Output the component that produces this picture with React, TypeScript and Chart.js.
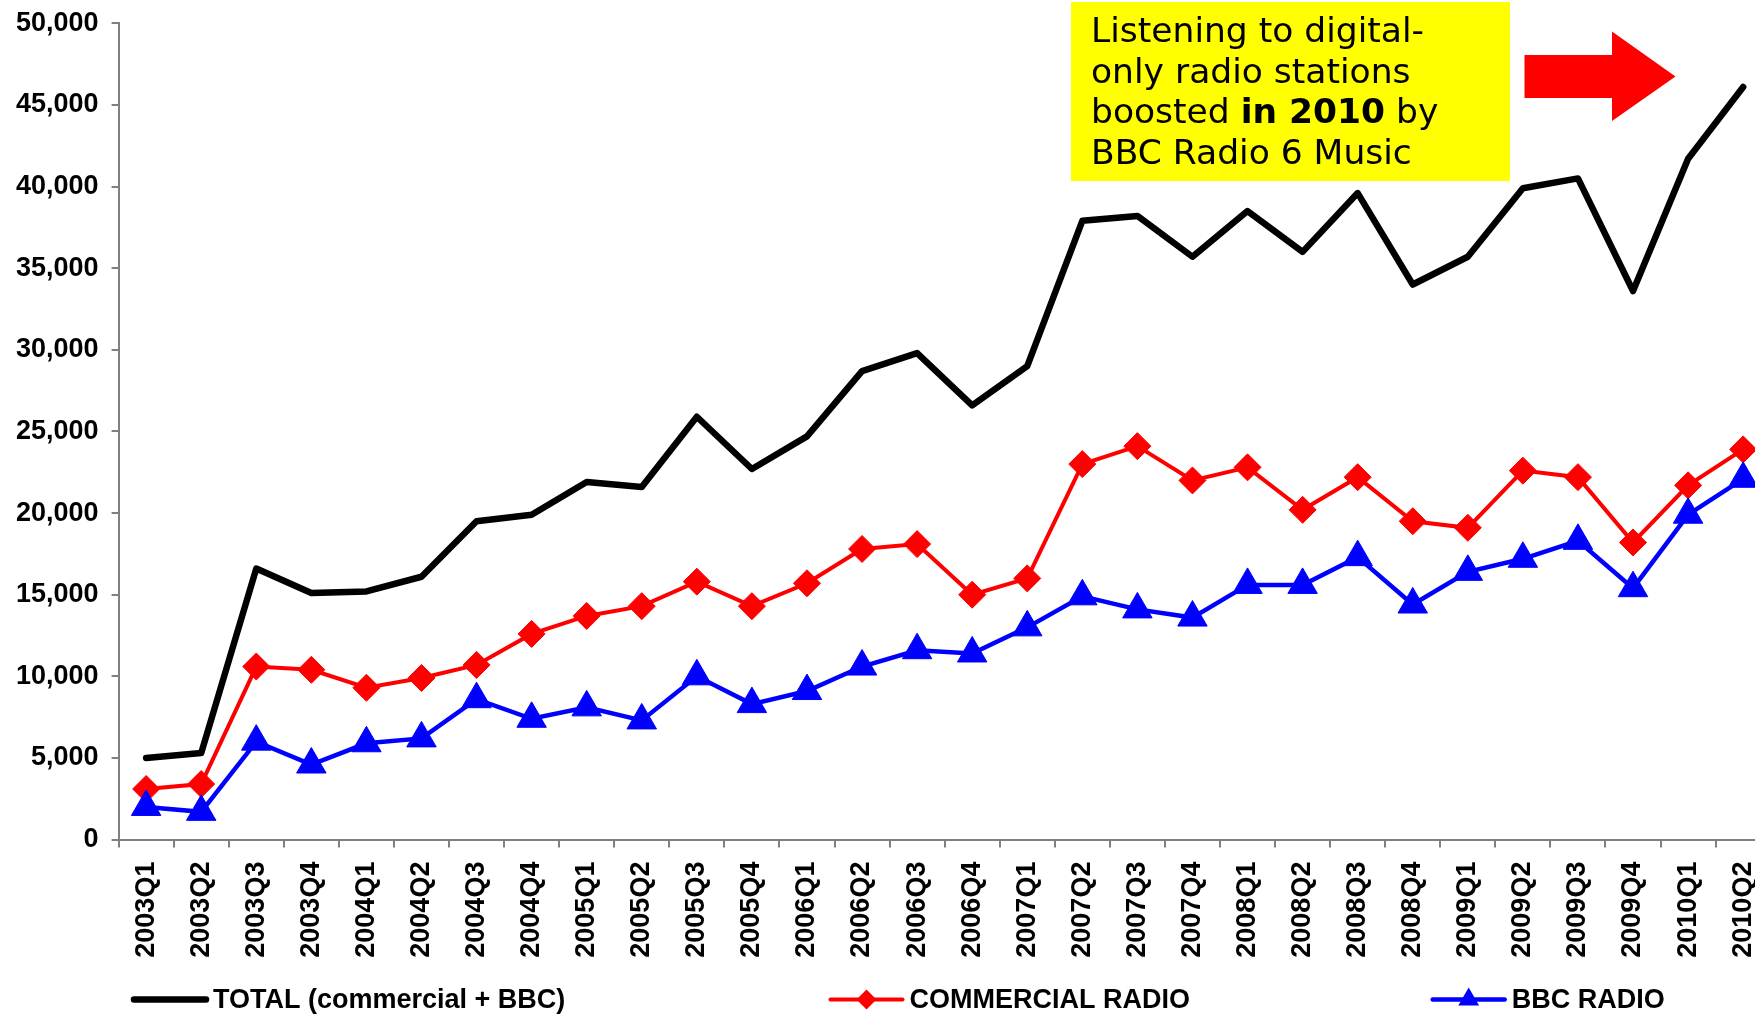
import React, { useEffect, useRef } from "react";
import { Chart, registerables } from "chart.js";

Chart.register(...registerables);

const categories = [
  "2003Q1", "2003Q2", "2003Q3", "2003Q4",
  "2004Q1", "2004Q2", "2004Q3", "2004Q4",
  "2005Q1", "2005Q2", "2005Q3", "2005Q4",
  "2006Q1", "2006Q2", "2006Q3", "2006Q4",
  "2007Q1", "2007Q2", "2007Q3", "2007Q4",
  "2008Q1", "2008Q2", "2008Q3", "2008Q4",
  "2009Q1", "2009Q2", "2009Q3", "2009Q4",
  "2010Q1", "2010Q2",
];

const totalValues = [
  5000, 5300, 16600, 15100,
  15200, 16100, 19500, 19900,
  21900, 21600, 25900, 22700,
  24700, 28700, 29800, 26600,
  29000, 37900, 38200, 35700,
  38500, 36000, 39600, 34000,
  35700, 39900, 40500, 33600,
  41700, 46100,
];

const commercialValues = [
  3100, 3400, 10600, 10400,
  9300, 9900, 10700, 12600,
  13700, 14300, 15800, 14300,
  15700, 17800, 18100, 15000,
  16000, 23000, 24100, 22000,
  22800, 20200, 22200, 19500,
  19100, 22600, 22200, 18200,
  21700, 23900,
];

const bbcValues = [
  2000, 1700, 6000, 4600,
  5900, 6200, 8600, 7400,
  8100, 7300, 10000, 8300,
  9100, 10600, 11600, 11400,
  13000, 14900, 14100, 13600,
  15600, 15600, 17300, 14400,
  16400, 17200, 18300, 15400,
  19900, 22100,
];

const seriesLabels = ["TOTAL (commercial + BBC)", "COMMERCIAL RADIO", "BBC RADIO"];

const yMin = 0;
const yMax = 50000;
const yStep = 5000;

// annotation text: each line is a list of [text, bold]
const annotationLines: [string, boolean][][] = [
  [["Listening to digital-", false]],
  [["only radio stations", false]],
  [["boosted ", false], ["in 2010", true], [" by", false]],
  [["BBC Radio 6 Music", false]],
];

const FONT = "'Liberation Sans', Arial, Helvetica, sans-serif";
const NOTE_FONT = "'DejaVu Sans', Verdana, sans-serif";

const annotationPlugin = {
  id: "noteBox",
  afterDraw(chart: any) {
    const ctx = chart.ctx as CanvasRenderingContext2D;
    ctx.save();
    ctx.fillStyle = "#FFFF00";
    ctx.fillRect(1071, 2, 439, 179);
    ctx.fillStyle = "#000000";
    ctx.textBaseline = "alphabetic";
    ctx.textAlign = "left";
    const baselines = [42, 82.5, 123, 163.5];
    annotationLines.forEach((segs, i) => {
      let x = 1091;
      segs.forEach(([t, b]) => {
        ctx.font = `${b ? "bold " : ""}34.5px ${NOTE_FONT}`;
        ctx.fillText(t, x, baselines[i]);
        x += ctx.measureText(t).width;
      });
    });
    // red arrow
    ctx.fillStyle = "#FF0000";
    ctx.beginPath();
    ctx.moveTo(1524.5, 55);
    ctx.lineTo(1612, 55);
    ctx.lineTo(1612, 31.5);
    ctx.lineTo(1675.5, 76.5);
    ctx.lineTo(1612, 121);
    ctx.lineTo(1612, 98);
    ctx.lineTo(1524.5, 98);
    ctx.closePath();
    ctx.fill();
    ctx.restore();
  },
};

const legendX = [134, 830.5, 1432.7];
const legendY = 999.5;
const legendLineLen = 72;

const legendPlugin = {
  id: "customLegend",
  afterDraw(chart: any) {
    const ctx = chart.ctx as CanvasRenderingContext2D;
    ctx.save();
    chart.data.datasets.forEach((ds: any, i: number) => {
      const x0 = legendX[i];
      ctx.strokeStyle = ds.borderColor;
      ctx.lineWidth = ds.borderWidth;
      ctx.lineCap = "round";
      ctx.beginPath();
      ctx.moveTo(x0, legendY);
      ctx.lineTo(x0 + legendLineLen, legendY);
      ctx.stroke();
      const cx = x0 + legendLineLen / 2;
      ctx.fillStyle = ds.borderColor;
      if (ds.pointStyle === "rectRot") {
        const r = 10;
        ctx.beginPath();
        ctx.moveTo(cx - r, legendY);
        ctx.lineTo(cx, legendY - r);
        ctx.lineTo(cx + r, legendY);
        ctx.lineTo(cx, legendY + r);
        ctx.closePath();
        ctx.fill();
      } else if (ds.pointStyle === "triangle") {
        const r = 12;
        ctx.beginPath();
        ctx.moveTo(cx, legendY - r);
        ctx.lineTo(cx + r * 0.866, legendY + r / 2);
        ctx.lineTo(cx - r * 0.866, legendY + r / 2);
        ctx.closePath();
        ctx.fill();
      }
      ctx.fillStyle = "#000000";
      ctx.font = `bold 27px ${FONT}`;
      ctx.textBaseline = "middle";
      ctx.textAlign = "left";
      ctx.fillText(ds.label, x0 + legendLineLen + 7, legendY + 1);
    });
    ctx.restore();
  },
};

export default function App() {
  const canvasRef = useRef<HTMLCanvasElement | null>(null);

  useEffect(() => {
    if (!canvasRef.current) return;
    const chart = new Chart(canvasRef.current, {
      type: "line",
      data: {
        labels: categories,
        datasets: [
          {
            label: seriesLabels[0],
            data: totalValues,
            borderColor: "#000000",
            backgroundColor: "#000000",
            borderWidth: 6.5,
            pointRadius: 0,
            pointHoverRadius: 0,
            borderCapStyle: "round",
            borderJoinStyle: "round",
            tension: 0,
            fill: false,
            order: 3,
          } as any,
          {
            label: seriesLabels[1],
            data: commercialValues,
            borderColor: "#FF0000",
            backgroundColor: "#FF0000",
            borderWidth: 4,
            pointStyle: "rectRot",
            pointRadius: 13.5,
            pointHoverRadius: 13.5,
            pointBackgroundColor: "#FF0000",
            pointBorderColor: "#FF0000",
            pointBorderWidth: 1,
            tension: 0,
            fill: false,
            order: 2,
          } as any,
          {
            label: seriesLabels[2],
            data: bbcValues,
            borderColor: "#0000FF",
            backgroundColor: "#0000FF",
            borderWidth: 4.5,
            pointStyle: "triangle",
            pointRadius: 17,
            pointHoverRadius: 17,
            pointBackgroundColor: "#0000FF",
            pointBorderColor: "#0000FF",
            pointBorderWidth: 1,
            tension: 0,
            fill: false,
            order: 1,
          } as any,
        ],
      },
      options: {
        responsive: false,
        animation: false,
        layout: { padding: { left: 0, right: 19.3, top: 23.3, bottom: 0 } },
        plugins: {
          legend: { display: false },
          tooltip: { enabled: false },
        },
        scales: {
          x: {
            offset: true,
            grid: {
              offset: true,
              drawOnChartArea: false,
              drawTicks: true,
              tickLength: 8,
              color: "#808080",
              lineWidth: 2,
            },
            border: { color: "#808080", width: 2 },
            ticks: {
              autoSkip: false,
              minRotation: 90,
              maxRotation: 90,
              padding: 14,
              color: "#000000",
              font: { family: FONT, size: 27, weight: "bold" },
            },
            afterFit: (s: any) => {
              s.height = 176.4;
              s.paddingLeft = 0;
              s.paddingRight = 0;
            },
          },
          y: {
            min: yMin,
            max: yMax,
            ticks: {
              stepSize: yStep,
              padding: 13,
              color: "#000000",
              font: { family: FONT, size: 27, weight: "bold" },
              callback: (v: any) => Number(v).toLocaleString("en-US"),
            },
            grid: {
              drawOnChartArea: false,
              tickLength: 7,
              color: "#808080",
              lineWidth: 2,
            },
            border: { color: "#808080", width: 2 },
            afterFit: (s: any) => {
              s.width = 118.6;
              s.paddingTop = 0;
              s.paddingBottom = 0;
            },
          },
        },
      } as any,
      plugins: [annotationPlugin, legendPlugin],
    });
    return () => chart.destroy();
  }, []);

  return (
    <div
      style={{
        position: "fixed",
        left: 0,
        top: 0,
        width: "100vw",
        height: "100vh",
        overflow: "hidden",
        background: "#ffffff",
      }}
    >
      <canvas
        ref={canvasRef}
        width={1790}
        height={1016}
        style={{ display: "block", width: "1790px", height: "1016px" }}
      />
    </div>
  );
}
